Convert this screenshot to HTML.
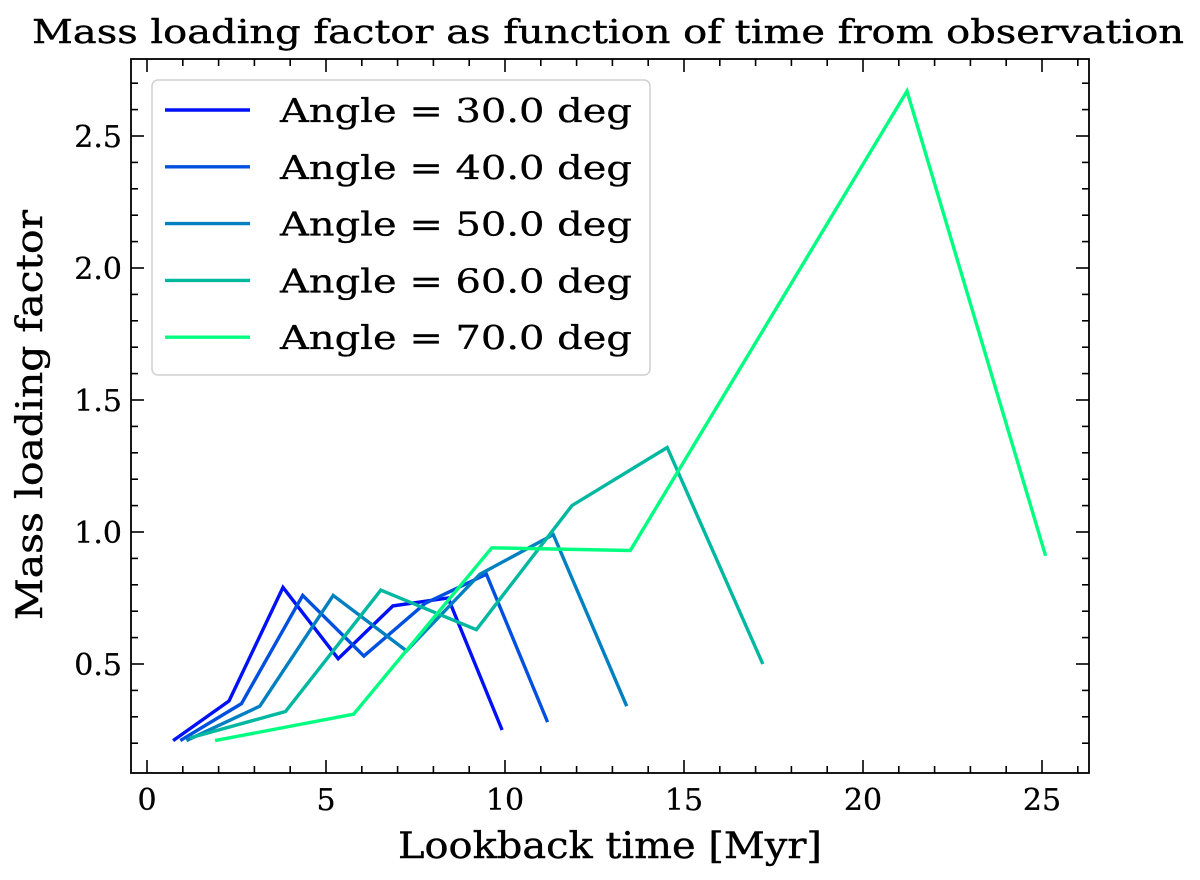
<!DOCTYPE html>
<html><head><meta charset="utf-8"><style>
body{margin:0;background:#fff}
svg text{font-family:"DejaVu Serif","Liberation Serif",serif;fill:#000}
</style></head><body>
<svg id="chart" width="1200" height="875" viewBox="0 0 1200 875" xmlns="http://www.w3.org/2000/svg">
<text x="608" y="43" font-size="33" text-anchor="middle" textLength="1152" lengthAdjust="spacingAndGlyphs" stroke="#000" stroke-width="0.4">Mass loading factor as function of time from observation</text>
<g id="axes"></g>
<g id="series"></g>
<rect x="131" y="59" width="958" height="714" fill="none" stroke="#000" stroke-width="1.8"/>
<g id="legend"></g>
<text x="610" y="858" font-size="36" text-anchor="middle" textLength="424" lengthAdjust="spacingAndGlyphs" stroke="#000" stroke-width="0.4">Lookback time [Myr]</text>
<text transform="translate(42,415) rotate(-90)" font-size="36" text-anchor="middle" textLength="410" lengthAdjust="spacingAndGlyphs" stroke="#000" stroke-width="0.4">Mass loading factor</text>
</svg>
<script>
const labels = ["Angle = 30.0 deg","Angle = 40.0 deg","Angle = 50.0 deg","Angle = 60.0 deg","Angle = 70.0 deg"];
const colors = ["#0010f8","#0050e0","#0080c0","#00b8a0","#00ff80"];
const t30 = [0.73,2.29,3.80,5.34,6.87,8.41,9.92];
const v30 = [0.21,0.36,0.79,0.52,0.72,0.75,0.25];
const t40 = [0.93,2.64,4.35,6.06,7.77,9.48,11.19];
const v40 = [0.21,0.35,0.76,0.53,0.73,0.84,0.28];
const t50 = [1.1,3.15,5.2,7.25,9.3,11.35,13.4];
const v50 = [0.21,0.34,0.76,0.55,0.84,0.99,0.34];
const t60 = [1.2,3.87,6.53,9.2,11.87,14.53,17.2];
const v60 = [0.22,0.32,0.78,0.63,1.10,1.32,0.50];
const t70 = [1.9,5.77,9.63,13.5,17.37,21.23,25.1];
const v70 = [0.21,0.31,0.94,0.93,1.80,2.67,0.91];
const xTicks = [0,5,10,15,20,25];
const yTicks = [0.5,1.0,1.5,2.0,2.5];

const NS="http://www.w3.org/2000/svg";
const L=131,R=1089,T=59,B=773;
function xs(t){return 147+35.8*t;}
function ys(v){return 664-(v-0.5)*264;}
function mk(tag,attrs,parent){const e=document.createElementNS(NS,tag);for(const k in attrs)e.setAttribute(k,attrs[k]);parent.appendChild(e);return e;}
const axes=document.getElementById('axes');
for(let t=0;t<=26;t+=1){
  const x=xs(t); if(x<L||x>R)continue;
  const major=t%5===0, len=major?13:7;
  const a=mk('line',{x1:x,x2:x,y1:B,y2:B-len,stroke:'#000','stroke-width':1.6},axes);
  
  
  const b=mk('line',{x1:x,x2:x,y1:T,y2:T+len,stroke:'#000','stroke-width':1.6},axes);
  
  
}
xTicks.forEach(t=>{
  const e=mk('text',{x:xs(t),y:810,'font-size':30,'text-anchor':'middle',stroke:'#000','stroke-width':0.3},axes);
  e.textContent=String(t);
  
  
});
for(let i=0;i<=28;i++){
  const v=0.2+i*0.1; const y=ys(v); if(y<T||y>B)continue;
  const major=Math.abs((v*10)%5)<0.01||Math.abs((v*10)%5-5)<0.01, len=major?13:7;
  const a=mk('line',{x1:L,x2:L+len,y1:y,y2:y,stroke:'#000','stroke-width':1.6},axes);
  
  
  const b=mk('line',{x1:R,x2:R-len,y1:y,y2:y,stroke:'#000','stroke-width':1.6},axes);
  
  
}
yTicks.forEach(v=>{
  const e=mk('text',{x:122,y:ys(v)+11,'font-size':30,'text-anchor':'end',stroke:'#000','stroke-width':0.3},axes);
  e.textContent=v.toFixed(1);
  
  
});
const sg=document.getElementById('series');
const TS=[t30,t40,t50,t60,t70], VS=[v30,v40,v50,v60,v70];
TS.forEach((ts,i)=>{
  const pts=ts.map((t,j)=>xs(t).toFixed(1)+','+ys(VS[i][j]).toFixed(1)).join(' ');
  const p=mk('polyline',{points:pts,fill:'none',stroke:colors[i],'stroke-width':3.4,'stroke-linejoin':'miter'},sg);
  
  
});
const lg=document.getElementById('legend');
const box=mk('rect',{x:152,y:80,width:498,height:295,rx:6,fill:'#fff','fill-opacity':0.8,stroke:'#d0d0d0','stroke-width':1.5},lg);


labels.forEach((lab,i)=>{
  const y=110+i*56.8;
  const l=mk('line',{x1:165,x2:250,y1:y,y2:y,stroke:colors[i],'stroke-width':3.4},lg);
  
  
  const tx=mk('text',{x:280,y:y+12,'font-size':33,textLength:352,lengthAdjust:'spacingAndGlyphs',stroke:'#000','stroke-width':0.3},lg);
  tx.textContent=lab;
  
  
});
</script>
</body></html>
